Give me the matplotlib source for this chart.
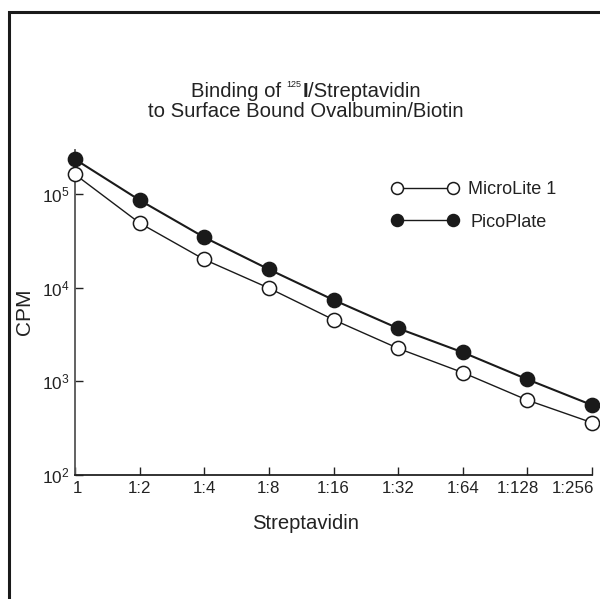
import matplotlib
matplotlib.use("Agg")
import matplotlib.pyplot as plt
from matplotlib.lines import Line2D
from matplotlib.patches import Rectangle
from matplotlib.transforms import ScaledTranslation
from matplotlib.ticker import FixedLocator, FixedFormatter, NullLocator

plt.rcParams['font.family'] = ['Liberation Sans', 'DejaVu Sans']
plt.rcParams['mathtext.fontset'] = 'custom'
plt.rcParams['mathtext.rm'] = 'Liberation Sans'
plt.rcParams['mathtext.it'] = 'Liberation Sans:italic'
plt.rcParams['mathtext.bf'] = 'Liberation Sans:bold'

# ---- data ----
dilutions = ["1", "1:2", "1:4", "1:8", "1:16", "1:32", "1:64", "1:128", "1:256"]
microlite = [1.62e5, 4.9e4, 2.0e4, 9.9e3, 4.55e3, 2.25e3, 1.24e3, 630, 362]
picoplate = [2.35e5, 8.6e4, 3.45e4, 1.57e4, 7.4e3, 3.68e3, 2.04e3, 1.05e3, 558]
ytick_vals = [1e2, 1e3, 1e4, 1e5]
ytick_labels = [r"$10^{2}$", r"$10^{3}$", r"$10^{4}$", r"$10^{5}$"]

W, H = 600, 599
fig = plt.figure(figsize=(6.0, 5.99), dpi=100)

def fx(px):
    return px / W

def fy(py):
    return (H - py) / H

# outer frame (clipped on right and bottom)
fig.add_artist(Rectangle((fx(9), fy(700)), fx(700), (700 - 12) / H,
                         transform=fig.transFigure, fill=False,
                         edgecolor='#1a1a1a', linewidth=2.2, clip_on=False))

ax = fig.add_axes([fx(75), fy(475), fx(592) - fx(75), fy(150) - fy(475)])
ax.set_yscale('log')
x = list(range(len(dilutions)))
ax.plot(x, microlite, '-o', color='#1a1a1a', lw=1.0, ms=10.2,
        mfc='white', mec='#1a1a1a', mew=1.1, clip_on=False, zorder=3)
ax.plot(x, picoplate, '-o', color='#1a1a1a', lw=1.5, ms=10.2,
        mfc='#1a1a1a', mec='#1a1a1a', mew=1.1, clip_on=False, zorder=4)

ax.set_xlim(0, len(dilutions) - 1)
ax.set_ylim(1e2, 10 ** 5.47)
ax.xaxis.set_major_locator(FixedLocator(x))
ax.xaxis.set_major_formatter(FixedFormatter(dilutions))
ax.yaxis.set_major_locator(FixedLocator(ytick_vals))
ax.yaxis.set_major_formatter(FixedFormatter(ytick_labels))
ax.yaxis.set_minor_locator(NullLocator())
ax.xaxis.set_minor_locator(NullLocator())

for s in ['top', 'right']:
    ax.spines[s].set_visible(False)
ax.spines['left'].set_color('#555555')
ax.spines['left'].set_linewidth(1.3)
ax.spines['bottom'].set_color('#222222')
ax.spines['bottom'].set_linewidth(1.3)

ax.tick_params(axis='x', direction='in', length=5.8, width=1.0,
               labelsize=12.2, pad=4.6, colors='#222222')
ax.tick_params(axis='y', direction='in', length=5.8, width=1.0,
               labelsize=12.4, pad=4.0, colors='#222222')
ax.patch.set_visible(False)

# shift crowded right-hand tick labels leftwards, as in the reference
shifts_px = {0: 2.5, 7: -9.5, 8: -19.5}
for i, lab in enumerate(ax.get_xticklabels()):
    if i in shifts_px:
        lab.set_transform(lab.get_transform() +
                          ScaledTranslation(shifts_px[i] / 100.0, 0, fig.dpi_scale_trans))

# axis labels
fig.text(fx(24.5), fy(312), "CPM", rotation=90, fontsize=15,
         ha='center', va='center', color='#222222')
fig.text(fx(306), fy(529.3), "Streptavidin", fontsize=14.6,
         ha='center', va='baseline', color='#222222')

# title line 1, assembled from pieces
renderer = fig.canvas.get_renderer()
t1 = fig.text(0, fy(97), "Binding of", fontsize=14.6, va='baseline', color='#222222')
t2 = fig.text(0, fy(87), "125", fontsize=6.5, va='baseline', color='#222222')
t3 = fig.text(0, fy(97), "I", fontsize=14.6, va='baseline', fontweight='bold', color='#222222')
t4 = fig.text(0, fy(97), "/Streptavidin", fontsize=14.6, va='baseline', color='#222222')
pieces = [t1, t2, t3, t4]
gaps = [0, 5.5, 0.8, 0]
widths = [p.get_window_extent(renderer).width for p in pieces]
total = sum(widths) + sum(gaps)
cur = 306 - total / 2
for p, w, g in zip(pieces, widths, gaps):
    cur += g
    p.set_x(fx(cur))
    cur += w
fig.text(fx(306), fy(117), "to Surface Bound Ovalbumin/Biotin", fontsize=14.6,
         ha='center', va='baseline', color='#222222')

# legend (drawn manually)
fig.add_artist(Line2D([fx(396.7), fx(452.7)], [fy(187.7), fy(187.7)],
                      transform=fig.transFigure, color='#1a1a1a', lw=1.0,
                      marker='o', ms=8.6, mfc='white', mec='#1a1a1a', mew=1.1))
fig.add_artist(Line2D([fx(396.7), fx(452.7)], [fy(220), fy(220)],
                      transform=fig.transFigure, color='#1a1a1a', lw=1.0,
                      marker='o', ms=8.6, mfc='#1a1a1a', mec='#1a1a1a', mew=1.1))
fig.text(fx(468), fy(194.3), "MicroLite 1", fontsize=13, va='baseline', color='#222222')
fig.text(fx(470.7), fy(226.7), "PicoPlate", fontsize=13, va='baseline', color='#222222')

fig.savefig("out.png", dpi=100)
